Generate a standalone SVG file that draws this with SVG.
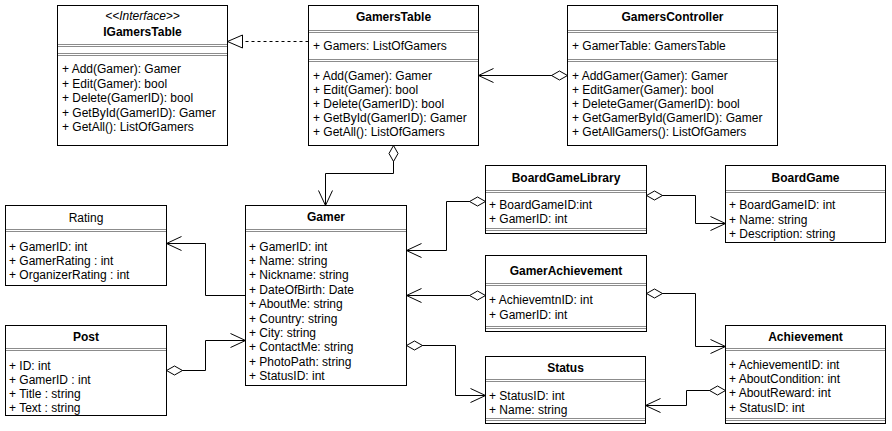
<svg xmlns="http://www.w3.org/2000/svg" width="892" height="431" viewBox="0 0 892 431">
<style>
.box{fill:#fff;stroke:#000;stroke-width:1}
.sep{stroke:#8c8c8c;stroke-width:1;fill:none}
text{font-family:"Liberation Sans",Arial,sans-serif;font-size:12px;fill:#000}
.t{text-anchor:middle;font-weight:bold}
.tn{text-anchor:middle}
.it{text-anchor:middle;font-style:italic}
.con{fill:none;stroke:#000;stroke-width:1}
.dash{stroke-dasharray:3 3}
</style>
<defs>
<marker id="arr" markerUnits="userSpaceOnUse" markerWidth="20" markerHeight="20" viewBox="-16 -10 20 20" refX="0" refY="0" orient="auto" overflow="visible">
<path d="M-15,-7 L0,0 L-15,7" fill="none" stroke="#000" stroke-width="1"/>
</marker>
<marker id="dia" markerUnits="userSpaceOnUse" markerWidth="20" markerHeight="20" viewBox="-2 -10 20 20" refX="0" refY="0" orient="auto" overflow="visible">
<path d="M0,0 L8,-4.5 L16,0 L8,4.5 Z" fill="#fff" stroke="#000" stroke-width="1"/>
</marker>
<marker id="tri" markerUnits="userSpaceOnUse" markerWidth="20" markerHeight="20" viewBox="-18 -10 20 20" refX="0" refY="0" orient="auto" overflow="visible">
<path d="M0,0 L-15,-6.5 L-15,6.5 Z" fill="#fff" stroke="#000" stroke-width="1"/>
</marker>
</defs>

<g id="connectors">
<path class="con dash" d="M308.5,41.5 L227.5,41.5" marker-end="url(#tri)"/>
<path class="con" d="M567.5,75.5 L478.5,75.5" marker-start="url(#dia)" marker-end="url(#arr)"/>
<path class="con" d="M393.5,145.5 L393.5,173.5 L325.5,173.5 L325.5,205.5" marker-start="url(#dia)" marker-end="url(#arr)"/>
<path class="con" d="M245.5,295.5 L205.5,295.5 L205.5,243.5 L166.5,243.5" marker-end="url(#arr)"/>
<path class="con" d="M166.5,370.5 L205.5,370.5 L205.5,340.5 L245.5,340.5" marker-start="url(#dia)" marker-end="url(#arr)"/>
<path class="con" d="M485.5,201.5 L446.5,201.5 L446.5,250.5 L406.5,250.5" marker-start="url(#dia)" marker-end="url(#arr)"/>
<path class="con" d="M646.5,195.5 L695.5,195.5 L695.5,223.5 L725.5,223.5" marker-start="url(#dia)" marker-end="url(#arr)"/>
<path class="con" d="M485.5,295.5 L406.5,295.5" marker-start="url(#dia)" marker-end="url(#arr)"/>
<path class="con" d="M646.5,293.5 L695.5,293.5 L695.5,346.5 L725.5,346.5" marker-start="url(#dia)" marker-end="url(#arr)"/>
<path class="con" d="M725.5,390.5 L686.5,390.5 L686.5,405.5 L645.5,405.5" marker-start="url(#dia)" marker-end="url(#arr)"/>
<path class="con" d="M406.5,345.5 L455.5,345.5 L455.5,395.5 L485.5,395.5" marker-start="url(#dia)" marker-end="url(#arr)"/>
</g>

<g id="IGamersTable">
<rect class="box" x="57.5" y="5.5" width="170" height="140"/>
<text class="it" x="142.5" y="20">&lt;&lt;Interface&gt;&gt;</text>
<text class="t" x="142.5" y="36">IGamersTable</text>
<path class="sep" d="M58,44.5 H227 M58,46.5 H227 M58,53.5 H227 M58,55.5 H227"/>
<text x="62" y="73">+ Add(Gamer): Gamer</text>
<text x="62" y="87.5">+ Edit(Gamer): bool</text>
<text x="62" y="102">+ Delete(GamerID): bool</text>
<text x="62" y="116.5">+ GetById(GamerID): Gamer</text>
<text x="62" y="131">+ GetAll(): ListOfGamers</text>
</g>

<g id="GamersTable">
<rect class="box" x="308.5" y="5.5" width="170" height="140"/>
<text class="t" x="393.5" y="20.5">GamersTable</text>
<path class="sep" d="M309,30.5 H478 M309,32.5 H478 M309,59.5 H478 M309,61.5 H478"/>
<text x="313" y="49.5">+ Gamers: ListOfGamers</text>
<text x="313" y="79.5">+ Add(Gamer): Gamer</text>
<text x="313" y="93.5">+ Edit(Gamer): bool</text>
<text x="313" y="107.5">+ Delete(GamerID): bool</text>
<text x="313" y="121.5">+ GetById(GamerID): Gamer</text>
<text x="313" y="136">+ GetAll(): ListOfGamers</text>
</g>

<g id="GamersController">
<rect class="box" x="567.5" y="5.5" width="210" height="140"/>
<text class="t" x="672.5" y="20.5">GamersController</text>
<path class="sep" d="M568,30.5 H777 M568,32.5 H777 M568,59.5 H777 M568,61.5 H777"/>
<text x="572" y="49.5">+ GamerTable: GamersTable</text>
<text x="572" y="79.5">+ AddGamer(Gamer): Gamer</text>
<text x="572" y="93.5">+ EditGamer(Gamer): bool</text>
<text x="572" y="107.5">+ DeleteGamer(GamerID): bool</text>
<text x="572" y="121.5">+ GetGamerById(GamerID): Gamer</text>
<text x="572" y="136">+ GetAllGamers(): ListOfGamers</text>
</g>

<g id="Rating">
<rect class="box" x="5.5" y="205.5" width="161" height="80"/>
<text class="tn" x="86" y="221.5">Rating</text>
<path class="sep" d="M6,229.5 H166 M6,231.5 H166"/>
<text x="9" y="251">+ GamerID: int</text>
<text x="9" y="265">+ GamerRating : int</text>
<text x="9" y="279">+ OrganizerRating : int</text>
</g>

<g id="Post">
<rect class="box" x="5.5" y="325.5" width="161" height="90"/>
<text class="t" x="86" y="340.5">Post</text>
<path class="sep" d="M6,348.5 H166 M6,350.5 H166"/>
<text x="9" y="370">+ ID: int</text>
<text x="9" y="384">+ GamerID : int</text>
<text x="9" y="398">+ Title : string</text>
<text x="9" y="412">+ Text : string</text>
</g>

<g id="Gamer">
<rect class="box" x="245.5" y="205.5" width="161" height="180"/>
<text class="t" x="326" y="220.5">Gamer</text>
<path class="sep" d="M246,229.5 H406 M246,231.5 H406"/>
<text x="249" y="250.5">+ GamerID: int</text>
<text x="249" y="264.9">+ Name: string</text>
<text x="249" y="279.3">+ Nickname: string</text>
<text x="249" y="293.7">+ DateOfBirth: Date</text>
<text x="249" y="308.1">+ AboutMe: string</text>
<text x="249" y="322.5">+ Country: string</text>
<text x="249" y="336.9">+ City: string</text>
<text x="249" y="351.3">+ ContactMe: string</text>
<text x="249" y="365.7">+ PhotoPath: string</text>
<text x="249" y="380.1">+ StatusID: int</text>
</g>

<g id="BoardGameLibrary">
<rect class="box" x="485.5" y="165.5" width="161" height="68"/>
<text class="t" x="566" y="181.5">BoardGameLibrary</text>
<path class="sep" d="M486,190.5 H646 M486,192.5 H646 M486,228.5 H646 M486,230.5 H646"/>
<text x="489" y="209">+ BoardGameID:int</text>
<text x="489" y="223">+ GamerID: int</text>
</g>

<g id="BoardGame">
<rect class="box" x="725.5" y="165.5" width="160" height="77"/>
<text class="t" x="805.5" y="181.5">BoardGame</text>
<path class="sep" d="M726,190.5 H885 M726,192.5 H885"/>
<text x="729" y="209">+ BoardGameID: int</text>
<text x="729" y="223.5">+ Name: string</text>
<text x="729" y="238">+ Description: string</text>
</g>

<g id="GamerAchievement">
<rect class="box" x="485.5" y="255.5" width="161" height="76"/>
<text class="t" x="566" y="274.5">GamerAchievement</text>
<path class="sep" d="M486,283.5 H646 M486,285.5 H646 M486,326.5 H646 M486,328.5 H646"/>
<text x="489" y="304">+ AchievemtnID: int</text>
<text x="489" y="319">+ GamerID: int</text>
</g>

<g id="Achievement">
<rect class="box" x="725.5" y="325.5" width="160" height="98"/>
<text class="t" x="805.5" y="340.5">Achievement</text>
<path class="sep" d="M726,348.5 H885 M726,350.5 H885 M726,418.5 H885 M726,420.5 H885"/>
<text x="729" y="369">+ AchievementID: int</text>
<text x="729" y="383">+ AboutCondition: int</text>
<text x="729" y="397">+ AboutReward: int</text>
<text x="729" y="412">+ StatusID: int</text>
</g>

<g id="Status">
<rect class="box" x="485.5" y="356.5" width="160" height="67"/>
<text class="t" x="565.5" y="371.5">Status</text>
<path class="sep" d="M486,379.5 H645 M486,381.5 H645 M486,418.5 H645 M486,420.5 H645"/>
<text x="489" y="400">+ StatusID: int</text>
<text x="489" y="414">+ Name: string</text>
</g>
</svg>
